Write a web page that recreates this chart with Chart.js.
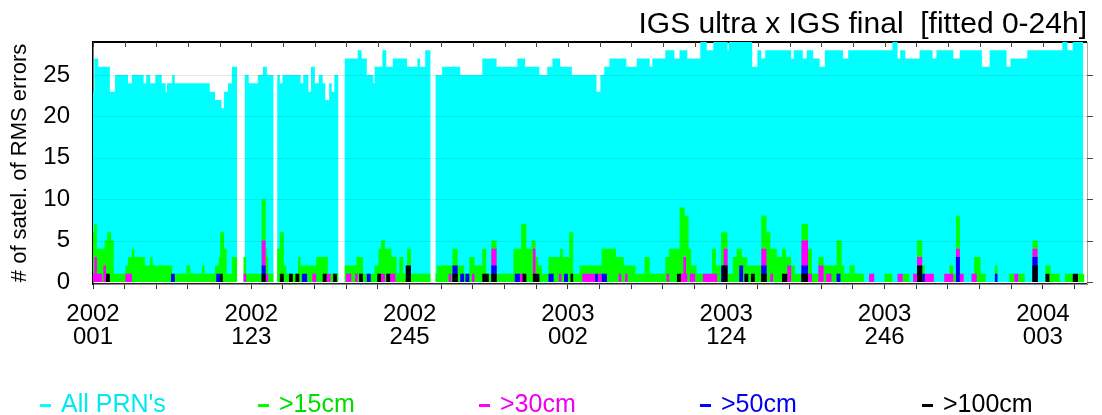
<!DOCTYPE html>
<html lang="en">
<head>
<meta charset="UTF-8">
<title>IGS ultra x IGS final</title>
<script src="https://cdn.jsdelivr.net/npm/chart.js"></script>
<style>
  body { margin: 0; background: #fff; }
  #wrap { position: relative; width: 1102px; height: 415px; }
  #legend span.item { position: absolute; top: 389px; font: 25px "Liberation Sans", Arial, sans-serif; white-space: nowrap; }
  #legend span.dash { display: inline-block; width: 11px; height: 3px; vertical-align: middle; margin-right: 10px; }
</style>
</head>
<body>
<div id="wrap">
  <canvas id="chart" width="1102" height="415"></canvas>
  <div id="legend"></div>
</div>
<script>
// x = day counted from 2002 day 001 (each series is a step curve: a new level starts at each day)
const lastDay = 766;
const xMajorDays = [0, 122, 244, 366, 488, 610, 732];
const xTickLabels = [['2002', '001'], ['2002', '123'], ['2002', '245'], ['2003', '002'], ['2003', '124'], ['2003', '246'], ['2004', '003']];
const yTicks = [0, 5, 10, 15, 20, 25];

const seriesNames = ["All PRN's", '>15cm', '>30cm', '>50cm', '>100cm'];

// All PRN's
const allDays = [0, 1, 4, 13, 17, 27, 30, 39, 41, 44, 48, 53, 56, 57, 61, 63, 90, 94, 99, 101, 104, 107, 111, 117, 120, 127, 131, 134, 139, 142, 144, 146, 160, 162, 166, 168, 171, 174, 177, 179, 182, 184, 186, 189,
  194, 204, 207, 211, 216, 217, 223, 226, 231, 242, 250, 252, 256, 260, 264, 269, 283, 300, 311, 327, 333, 344, 350, 354, 360, 369, 388, 391, 394, 398, 411, 419, 429, 431, 441, 448, 452, 458, 468, 473, 478,
  489, 490, 508, 512, 515, 518, 538, 540, 547, 550, 555, 560, 564, 578, 582, 616, 620, 622, 626, 637, 647, 650, 663, 668, 685, 691, 704, 707, 720, 747, 751, 755, 763];
const allVals = [23, 27, 26, 23, 25, 24, 25, 24, 25, 24, 25, 24, 23, 24, 25, 24, 23, 22, 21, 23, 24, 26, 0, 25, 24, 25, 26, 25, 0, 25, 24, 25, 24, 25, 23, 26, 24, 25, 24, 22, 24, 23, 25, 0,
  27, 28, 27, 25, 24, 26, 28, 26, 27, 26, 27, 26, 28, 0, 25, 26, 25, 27, 26, 27, 26, 25, 26, 27, 26, 25, 23, 25, 26, 27, 26, 27, 26, 27, 28, 27, 28, 27, 29, 28, 29,
  28, 29, 26, 28, 27, 28, 27, 28, 27, 28, 27, 26, 28, 27, 28, 29, 27, 28, 27, 28, 27, 28, 27, 28, 26, 28, 26, 27, 28, 29, 28, 29, 0];

// >15cm
const g15Days = [0, 1, 3, 9, 11, 14, 16, 25, 27, 30, 32, 40, 44, 46, 61, 72, 75, 84, 86, 94, 97, 98, 101, 103, 107, 111, 116, 118, 130, 133, 134, 135, 139, 142, 144, 147, 149, 158, 160, 172, 181, 189,
  194, 203, 208, 217, 220, 222, 225, 230, 234, 236, 239, 242, 245, 260, 264, 265, 277, 281, 286, 290, 294, 300, 303, 307, 311, 324, 330, 334, 338, 341, 343, 346, 351, 360, 362, 367, 370, 375,
  392, 403, 409, 418, 425, 429, 441, 444, 452, 456, 459, 461, 465, 477, 480, 484, 489, 493, 496, 500, 504, 515, 519, 522, 527, 531, 534, 538, 541, 546, 551, 554, 559, 563, 573, 577, 579, 583, 587, 594,
  610, 616, 624, 629, 635, 639, 641, 660, 663, 665, 668, 679, 684, 688, 695, 697, 706, 710, 713, 718, 724, 728, 734, 738, 745, 749, 755, 759, 764];
const g15Vals = [6, 7, 4, 5, 6, 5, 1, 2, 3, 4, 3, 2, 3, 2, 1, 2, 1, 2, 1, 2, 3, 6, 4, 1, 3, 0, 3, 1, 10, 4, 3, 1, 0, 4, 6, 2, 1, 3, 2, 3, 1, 0,
  2, 3, 1, 2, 4, 5, 4, 3, 1, 3, 1, 4, 1, 0, 1, 2, 4, 2, 1, 3, 2, 4, 1, 5, 1, 4, 7, 4, 5, 3, 2, 1, 3, 4, 3, 6, 1, 2,
  4, 3, 2, 1, 3, 1, 3, 4, 9, 8, 4, 2, 1, 4, 2, 6, 1, 3, 4, 3, 2, 8, 6, 4, 3, 4, 3, 2, 1, 7, 4, 1, 3, 2, 5, 2, 1, 2, 1, 0,
  1, 0, 1, 0, 5, 2, 0, 2, 1, 8, 0, 3, 1, 0, 2, 0, 1, 0, 1, 0, 5, 0, 2, 1, 0, 1, 0, 1, 0];

// >30cm
const g30Days = [0, 1, 3, 7, 8, 10, 25, 30, 116, 118, 130, 133, 135, 169, 172, 180, 183, 195, 199, 202, 204, 222, 225, 229, 233, 274, 276, 292, 294, 307, 311, 329, 332, 339, 341, 359, 361,
  377, 387, 389, 392, 405, 407, 410, 412, 442, 444, 452, 455, 457, 458, 460, 464, 470, 481, 486, 489, 515, 519, 522, 524, 535, 538, 546, 551, 554, 559, 563, 565, 569,
  598, 602, 620, 624, 632, 635, 639, 641, 648, 656, 663, 665, 668, 671, 677, 681, 710, 713, 724, 728];
const g30Vals = [1, 3, 1, 0, 2, 0, 1, 0, 1, 0, 5, 1, 0, 1, 0, 1, 0, 1, 0, 1, 0, 1, 0, 1, 0, 1, 0, 1, 0, 4, 0, 1, 0, 4, 0, 1, 0,
  1, 0, 1, 0, 1, 0, 1, 0, 1, 0, 1, 3, 1, 0, 1, 0, 1, 0, 4, 0, 4, 0, 1, 0, 2, 0, 5, 1, 0, 2, 0, 1, 0,
  1, 0, 1, 0, 1, 3, 0, 1, 0, 1, 0, 4, 1, 0, 1, 0, 1, 0, 4, 0];

// >50cm
const g50Days = [60, 63, 95, 98, 130, 133, 161, 165, 211, 214, 277, 281, 283, 286, 287, 290, 307, 311, 325, 329, 351, 355, 363, 366, 387, 389, 392, 396,
  484, 488, 498, 501, 515, 519, 546, 551, 573, 576, 639, 641, 665, 668, 695, 697, 724, 728];
const g50Vals = [1, 0, 1, 0, 2, 0, 1, 0, 1, 0, 2, 0, 1, 0, 1, 0, 2, 0, 1, 0, 1, 0, 1, 0, 1, 0, 1, 0,
  2, 0, 2, 0, 2, 0, 2, 0, 1, 0, 1, 0, 3, 0, 1, 0, 3, 0];

// >100cm
const g100Days = [10, 13, 98, 100, 130, 133, 144, 147, 151, 154, 156, 159, 177, 180, 185, 188, 205, 208, 219, 222, 226, 229, 241, 245, 277, 281, 300, 305, 307, 311, 331, 334, 339, 344, 368, 370,
  450, 453, 485, 489, 502, 505, 507, 510, 515, 519, 531, 535, 546, 551, 635, 639, 724, 728, 734, 737, 755, 759];
const g100Vals = [1, 0, 1, 0, 1, 0, 1, 0, 1, 0, 1, 0, 1, 0, 1, 0, 1, 0, 1, 0, 1, 0, 2, 0, 1, 0, 1, 0, 1, 0, 1, 0, 1, 0, 1, 0,
  1, 0, 2, 0, 1, 0, 1, 0, 1, 0, 1, 0, 1, 0, 2, 0, 2, 0, 1, 0, 1, 0];

const colors = ['#00ffff', '#00ff00', '#ff00ff', '#0000ff', '#000000'];
const textColors = ['#00e8f0', '#00dd00', '#ee00ee', '#0000ee', '#000000'];

function steps(days, vals) {
  return days.map((d, i) => ({ x: d, y: vals[i] }));
}

const stepData = [steps(allDays, allVals), steps(g15Days, g15Vals), steps(g30Days, g30Vals), steps(g50Days, g50Vals), steps(g100Days, g100Vals)];

const datasets = stepData.map((pts, i) => ({
  label: seriesNames[i],
  data: pts,
  stepped: 'before',
  fill: 'origin',
  backgroundColor: colors[i],
  borderColor: colors[i],
  borderWidth: 0,
  pointRadius: 0,
  order: 5 - i
}));

// minor x ticks: five per 122 days
const xTicks = [];
for (let k = 0; k * 24.4 <= lastDay; k++) xTicks.push(Math.round(k * 24.4 * 10) / 10);

const framePlugin = {
  id: 'frame',
  beforeDatasetsDraw(chart) {
    const { ctx, chartArea: a } = chart;
    ctx.save();
    ctx.strokeStyle = '#000';
    ctx.lineWidth = 2;
    ctx.beginPath();
    ctx.moveTo(a.left, a.top);
    ctx.lineTo(a.right, a.top);
    ctx.stroke();
    ctx.strokeStyle = '#aaa';
    ctx.lineWidth = 1;
    ctx.beginPath();
    ctx.moveTo(a.right + 0.5, a.top);
    ctx.lineTo(a.right + 0.5, a.bottom);
    ctx.stroke();
    // inward ticks on the top edge
    ctx.strokeStyle = '#444';
    const xs = chart.scales.x;
    xTicks.forEach(v => {
      const px = Math.round(xs.getPixelForValue(v)) + 0.5;
      ctx.beginPath();
      ctx.moveTo(px, a.top);
      ctx.lineTo(px, a.top + 5);
      ctx.stroke();
    });
    // small ticks on the right edge
    const ys = chart.scales.y;
    yTicks.forEach(v => {
      const py = Math.round(ys.getPixelForValue(v)) + 0.5;
      ctx.beginPath();
      ctx.moveTo(a.right, py);
      ctx.lineTo(a.right + 6, py);
      ctx.stroke();
    });
    ctx.restore();
  },
  afterDatasetsDraw(chart) {
    // faint horizontal grid lines over the bars
    const { ctx, chartArea: a } = chart;
    const ys = chart.scales.y;
    ctx.save();
    ctx.strokeStyle = 'rgba(0,60,60,0.10)';
    ctx.lineWidth = 1;
    yTicks.slice(1).forEach(v => {
      const py = Math.round(ys.getPixelForValue(v)) + 0.5;
      ctx.beginPath();
      ctx.moveTo(a.left, py);
      ctx.lineTo(a.right, py);
      ctx.stroke();
    });
    ctx.restore();
  }
};

Chart.defaults.font.family = '"Liberation Sans", Arial, sans-serif';
Chart.defaults.color = '#000';

new Chart(document.getElementById('chart'), {
  type: 'line',
  data: { datasets: datasets },
  options: {
    responsive: false,
    animation: false,
    devicePixelRatio: 1,
    layout: { padding: { left: 0, right: 15, top: 0, bottom: 61 } },
    plugins: {
      legend: { display: false },
      tooltip: { enabled: false },
      title: {
        display: true,
        text: 'IGS ultra x IGS final  [fitted 0-24h]',
        align: 'end',
        color: '#000',
        font: { size: 30, weight: 'normal', lineHeight: 1.0 },
        padding: { top: 10, bottom: 2 }
      }
    },
    scales: {
      x: {
        type: 'linear',
        min: 0,
        max: lastDay,
        afterBuildTicks: s => { s.ticks = xTicks.map(v => ({ value: v })); },
        afterFit: s => { s.height = 70; },
        ticks: {
          autoSkip: false,
          maxRotation: 0,
          padding: 14,
          font: { size: 24, lineHeight: 0.95 },
          callback: v => {
            const i = xMajorDays.findIndex(d => Math.abs(d - v) < 0.5);
            return i >= 0 ? xTickLabels[i] : '';
          }
        },
        grid: { drawOnChartArea: false, drawTicks: true, tickLength: 5, tickColor: '#333' },
        border: { color: '#222', width: 1.5 }
      },
      y: {
        min: -0.25,
        max: 29,
        afterBuildTicks: s => { s.ticks = yTicks.map(v => ({ value: v })); },
        afterFit: s => { s.width = 93; },
        ticks: { padding: 15, font: { size: 24 } },
        grid: { display: false },
        border: { color: '#000', width: 1.5 },
        title: {
          display: true,
          text: '# of satel. of RMS errors',
          font: { size: 22 },
          padding: { top: 7, bottom: 0 }
        }
      }
    }
  },
  plugins: [framePlugin]
});

// legend below the chart
const legendX = [40, 258, 479, 700, 922];
const legend = document.getElementById('legend');
seriesNames.forEach((name, i) => {
  const item = document.createElement('span');
  item.className = 'item';
  item.style.left = legendX[i] + 'px';
  item.style.color = textColors[i];
  const dash = document.createElement('span');
  dash.className = 'dash';
  dash.style.background = colors[i];
  item.appendChild(dash);
  item.appendChild(document.createTextNode(name));
  legend.appendChild(item);
});
</script>
</body>
</html>
